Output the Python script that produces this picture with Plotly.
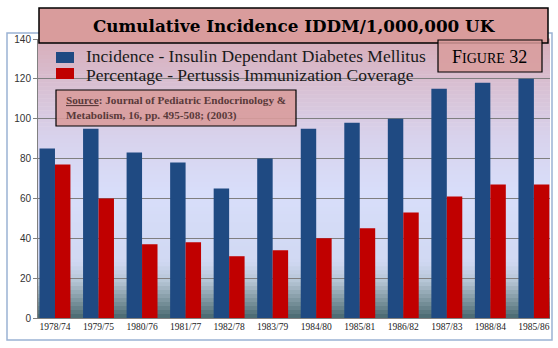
import plotly.graph_objects as go

categories = ["1978/74", "1979/75", "1980/76", "1981/77", "1982/78", "1983/79",
              "1984/80", "1985/81", "1986/82", "1987/83", "1988/84", "1985/86"]
incidence = [85, 95, 83, 78, 65, 80, 95, 98, 100, 115, 118, 120]
pertussis = [77, 60, 37, 38, 31, 34, 40, 45, 53, 61, 67, 67]
series_names = ["Incidence - Insulin Dependant Diabetes Mellitus",
                "Percentage - Pertussis Immunization Coverage"]
series_colors = ["#1f4a82", "#c00000"]
y_ticks = [0, 20, 40, 60, 80, 100, 120, 140]

W, H = 558, 348
ML, MR, MT, MB = 38, 8, 39, 30
PW, PH = W - ML - MR, H - MT - MB


def px(x):
    return (x - ML) / PW


def py(y):
    return (H - MB - y) / PH


fig = go.Figure()
for vals, name, c in zip([incidence, pertussis], series_names, series_colors):
    fig.add_trace(go.Bar(x=categories, y=vals, name=name, showlegend=False,
                         marker=dict(color=c, line=dict(width=0))))

shapes = []
# gradient background of the plot area
stops = [(0.0, (0x48, 0x68, 0x70)), (0.06, (0x7c, 0x94, 0x9e)), (0.13, (0xb4, 0xc4, 0xd4)),
         (0.2, (0xd0, 0xd8, 0xf2)), (0.45, (0xd8, 0xde, 0xfa)), (0.65, (0xd8, 0xd2, 0xec)),
         (0.85, (0xd8, 0xbe, 0xd0)), (1.0, (0xd8, 0xae, 0xba))]


def col(t):
    for (t0, c0), (t1, c1) in zip(stops[:-1], stops[1:]):
        if t0 <= t <= t1:
            f = (t - t0) / (t1 - t0) if t1 > t0 else 0
            return "rgb(%d,%d,%d)" % tuple(round(a + (b - a) * f) for a, b in zip(c0, c1))
    return "rgb(%d,%d,%d)" % stops[-1][1]


N = 70
for i in range(N):
    y0, y1 = i / N, (i + 1) / N
    shapes.append(dict(type="rect", xref="paper", yref="paper", x0=0, x1=1,
                       y0=y0, y1=y1 + 0.002, fillcolor=col((y0 + y1) / 2),
                       line=dict(width=0), layer="below"))

# outer chart border
shapes.append(dict(type="rect", xref="paper", yref="paper", x0=px(7), x1=px(552),
                   y0=py(340), y1=py(33), line=dict(color="#9bb2d4", width=1.5),
                   fillcolor="rgba(0,0,0,0)", layer="below"))
# title box
shapes.append(dict(type="rect", xref="paper", yref="paper", x0=px(39), x1=px(548),
                   y0=py(43), y1=py(8), line=dict(color="#000000", width=1.5),
                   fillcolor="#d99c9c", layer="above"))
# figure box
shapes.append(dict(type="rect", xref="paper", yref="paper", x0=px(438), x1=px(542),
                   y0=py(72), y1=py(40), line=dict(color="#000000", width=1.2),
                   fillcolor="rgba(217,156,156,0.85)", layer="above"))
# source box
shapes.append(dict(type="rect", xref="paper", yref="paper", x0=px(56), x1=px(296),
                   y0=py(126), y1=py(90), line=dict(color="#000000", width=1.2),
                   fillcolor="rgba(217,156,156,0.9)", layer="above"))

# legend
leg_rows = [(52, 63, 56), (68, 79, 75)]
annotations = []
for (top, bot, cy), name, c in zip(leg_rows, series_names, series_colors):
    shapes.append(dict(type="rect", xref="paper", yref="paper", x0=px(56), x1=px(74),
                       y0=py(bot), y1=py(top), fillcolor=c, line=dict(width=0),
                       layer="above"))
    annotations.append(dict(text=name, xref="paper", yref="paper", x=px(84), y=py(cy),
                            showarrow=False, xanchor="left", yanchor="middle",
                            font=dict(family="Liberation Serif", size=17.5, color="#1a1a1a")))

annotations += [
    dict(text="<b>Cumulative Incidence IDDM/1,000,000 UK</b>", xref="paper", yref="paper",
         x=px(294), y=py(26), showarrow=False, xanchor="center", yanchor="middle",
         font=dict(family="DejaVu Serif", size=16.8, color="#000000")),
    dict(text="F<span style='font-size:14px'>IGURE</span> 32", xref="paper", yref="paper",
         x=px(489), y=py(57), showarrow=False, xanchor="center", yanchor="middle",
         font=dict(family="Liberation Serif", size=18, color="#000000")),
    dict(text="<b><u>Source</u>: Journal of Pediatric Endocrinology &amp;<br>Metabolism, 16, pp. 495-508; (2003)</b>",
         xref="paper", yref="paper", x=px(64), y=py(108), showarrow=False, xanchor="left",
         yanchor="middle", align="left",
         font=dict(family="Liberation Serif", size=11.2, color="#5a3a3a")),
]

fig.update_layout(
    width=W, height=H,
    margin=dict(l=ML, r=MR, t=MT, b=MB),
    paper_bgcolor="#ffffff", plot_bgcolor="rgba(0,0,0,0)",
    barmode="group", bargap=0.29, bargroupgap=0.0,
    shapes=shapes, annotations=annotations,
    showlegend=False,
    xaxis=dict(type="category", range=[-0.39, 11.37], showgrid=False,
               showline=True, linecolor="#808080", ticks="",
               tickfont=dict(family="Liberation Serif", size=9.5, color="#222222")),
    yaxis=dict(range=[0, 140], tickvals=y_ticks, showgrid=True, gridcolor="#7f7f7f",
               gridwidth=1, showline=True, linecolor="#808080", ticks="outside",
               ticklen=4, tickcolor="#808080", zeroline=False,
               tickfont=dict(family="Liberation Sans", size=10, color="#333333")),
)

fig.write_html("out.html")
